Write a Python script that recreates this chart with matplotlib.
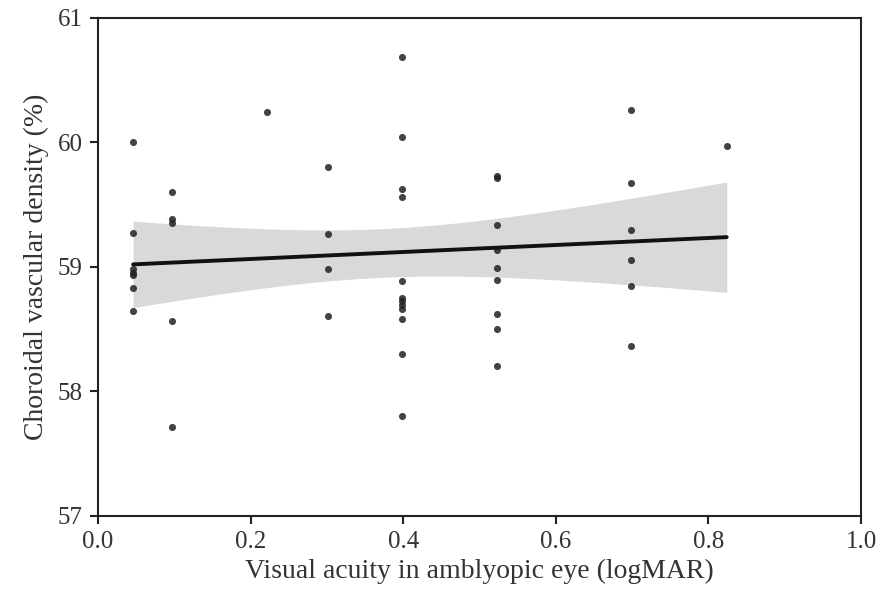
import matplotlib
matplotlib.use("Agg")
import matplotlib.pyplot as plt
import numpy as np

# logMAR values (x) and choroidal vascular density (y)
va_logmar = [
    0.046, 0.046, 0.046, 0.046, 0.046, 0.046, 0.046,
    0.097, 0.097, 0.097, 0.097, 0.097,
    0.222,
    0.301, 0.301, 0.301, 0.301,
    0.398, 0.398, 0.398, 0.398, 0.398, 0.398, 0.398, 0.398, 0.398, 0.398, 0.398, 0.398,
    0.523, 0.523, 0.523, 0.523, 0.523, 0.523, 0.523, 0.523, 0.523,
    0.699, 0.699, 0.699, 0.699, 0.699, 0.699,
    0.824,
]
cvd_pct = [
    60.00, 59.27, 58.98, 58.95, 58.93, 58.83, 58.64,
    59.60, 59.38, 59.35, 58.56, 57.71,
    60.24,
    59.80, 59.26, 58.98, 58.60,
    60.68, 60.04, 59.62, 59.56, 58.88, 58.75, 58.72, 58.69, 58.66, 58.58, 58.30, 57.80,
    59.73, 59.71, 59.33, 59.13, 58.99, 58.89, 58.62, 58.50, 58.20,
    60.26, 59.67, 59.29, 59.05, 58.84, 58.36,
    59.97,
]

xlim = (0.0, 1.0)
ylim = (57, 61)
xticks = [0.0, 0.2, 0.4, 0.6, 0.8, 1.0]
yticks = [57, 58, 59, 60, 61]

plt.rcParams["font.family"] = ["Liberation Serif", "DejaVu Serif"]

x = np.asarray(va_logmar)
y = np.asarray(cvd_pct)

# ordinary least squares fit with 95% confidence band of the mean
n = len(x)
slope, intercept = np.polyfit(x, y, 1)
grid = np.linspace(x.min(), x.max(), 100)
fit = intercept + slope * grid
resid = y - (intercept + slope * x)
s_err = np.sqrt(np.sum(resid ** 2) / (n - 2))
sxx = np.sum((x - x.mean()) ** 2)
t_crit = 2.016  # t(0.975, df=43)
half = t_crit * s_err * np.sqrt(1.0 / n + (grid - x.mean()) ** 2 / sxx)

fig = plt.figure(figsize=(8.8, 5.96), dpi=100)
ax = fig.add_axes([0.1114, 0.135, 0.8670, 0.8356])

ax.fill_between(grid, fit - half, fit + half, color="#d9d9d9", linewidth=0, zorder=1)
ax.scatter(x, y, s=26, color="#222222", alpha=0.85, linewidths=0, zorder=3)
ax.plot(grid, fit, color="#111111", linewidth=2.8, solid_capstyle="round", zorder=4)

ax.set_xlim(*xlim)
ax.set_ylim(*ylim)
ax.set_xticks(xticks)
ax.set_yticks(yticks)
ax.set_xticklabels([f"{v:.1f}" for v in xticks])
ax.set_yticklabels([str(v) for v in yticks])

for sp in ax.spines.values():
    sp.set_linewidth(1.5)
    sp.set_color("#222222")
ax.tick_params(direction="out", length=6, width=1.5, color="#222222",
               labelsize=18, labelcolor="#333333", pad=5)

ax.set_xlabel("Visual acuity in amblyopic eye (logMAR)", fontsize=20, color="#333333", labelpad=4)
ax.set_ylabel("Choroidal vascular density (%)", fontsize=20, color="#333333", labelpad=6)

fig.savefig("out.png", dpi=100)
